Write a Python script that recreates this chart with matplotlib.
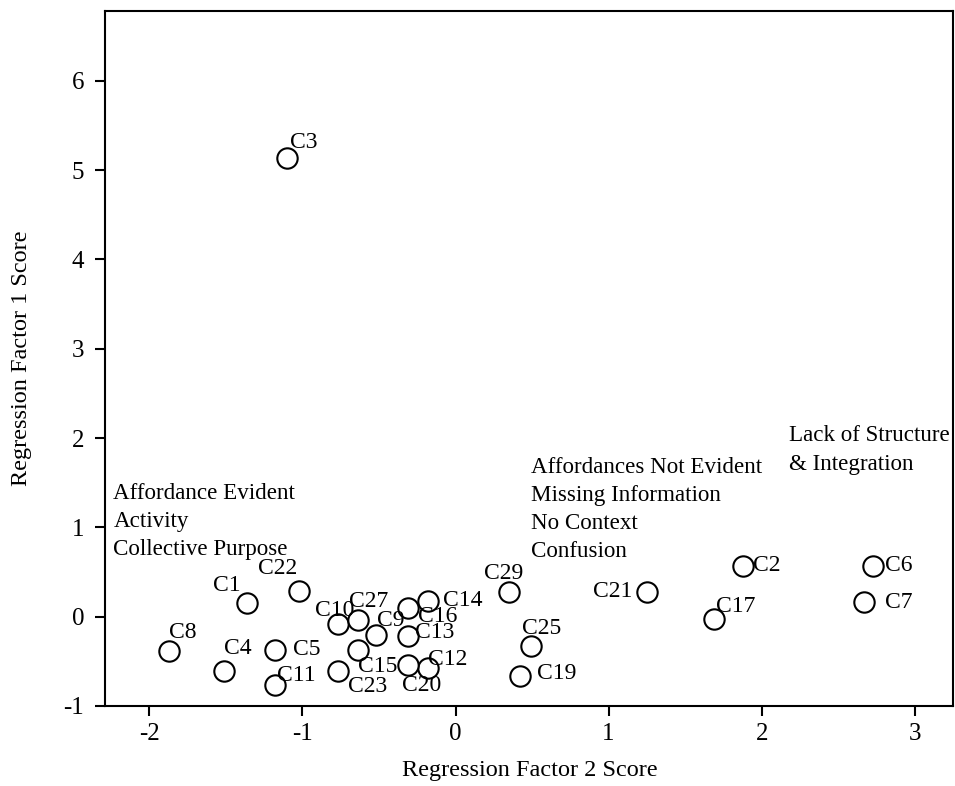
import numpy as np
import matplotlib
matplotlib.use("Agg")
import matplotlib.pyplot as plt

plt.rcParams['font.family'] = ['Liberation Serif', 'DejaVu Serif']
plt.rcParams['axes.unicode_minus'] = False

# cases, factor scores
cases = ['C1', 'C2', 'C3', 'C4', 'C5', 'C6', 'C7', 'C8', 'C9', 'C10',
         'C11', 'C12', 'C13', 'C14', 'C15', 'C16', 'C17', 'C19', 'C20', 'C21',
         'C22', 'C23', 'C25', 'C27', 'C29']
factor2 = [-1.36, 1.88, -1.10, -1.51, -1.18, 2.73, 2.67, -1.87, -0.52, -0.77,
           -1.18, -0.18, -0.31, -0.18, -0.64, -0.31, 1.69, 0.42, -0.31, 1.25,
           -1.02, -0.77, 0.49, -0.64, 0.35]
factor1 = [0.15, 0.57, 5.14, -0.61, -0.37, 0.57, 0.16, -0.38, -0.20, -0.08,
           -0.77, -0.57, -0.22, 0.18, -0.37, 0.10, -0.03, -0.66, -0.54, 0.28,
           0.29, -0.61, -0.33, -0.04, 0.28]

group_texts = ['Affordance Evident\nActivity\nCollective Purpose',
               'Affordances Not Evident\nMissing Information\nNo Context\nConfusion',
               'Lack of Structure\n& Integration']
group_x = [-2.235, 0.49, 2.18]
group_y = [1.40, 1.69, 2.04]

# label placement (pixels, ha)
label_pos = {
    'C1': (-7, 18, 'right'), 'C22': (-2, 22, 'right'), 'C8': (0, 18, 'left'),
    'C4': (0, 23, 'left'), 'C5': (18, 0, 'left'), 'C11': (2, 10, 'left'),
    'C10': (-23, 13, 'left'), 'C27': (-9, 19, 'left'), 'C9': (1, 14, 'left'),
    'C15': (0, -17, 'left'), 'C23': (10, -15, 'left'), 'C16': (10, -9, 'left'),
    'C14': (15, 0, 'left'), 'C13': (7, 4, 'left'), 'C12': (0, 8, 'left'),
    'C20': (-6, -21, 'left'), 'C29': (-25, 18, 'left'), 'C25': (-9, 18, 'left'),
    'C19': (17, 2, 'left'), 'C2': (10, 0, 'left'), 'C6': (12, 0, 'left'),
    'C7': (21, 0, 'left'), 'C17': (2, 13, 'left'), 'C21': (-14, 0, 'right'),
    'C3': (3, 15, 'left'),
}

fig = plt.figure(figsize=(9.55, 7.86), dpi=100)
ax = fig.add_axes([105 / 955, 80 / 786, (953 - 105) / 955, (706 - 11) / 786])

ax.scatter(factor2, factor1, s=215, facecolors='white', edgecolors='black',
           linewidths=1.5, zorder=3)

px = 0.72
for name, x, y in zip(cases, factor2, factor1):
    dx, dy, ha = label_pos[name]
    ax.annotate(name, (x, y), xytext=(dx * px, dy * px), textcoords='offset points',
                ha=ha, va='center', fontsize=17, zorder=4)

for t, x, y in zip(group_texts, group_x, group_y):
    ax.annotate(t, (x, y), xytext=(0, 9 * px), textcoords='offset points',
                ha='left', va='top', fontsize=16.6, linespacing=1.45)

ax.set_xlim(-2.29, 3.25)
ax.set_ylim(-1.0, 6.78)
ax.set_xticks([-2, -1, 0, 1, 2, 3])
ax.set_yticks([-1, 0, 1, 2, 3, 4, 5, 6])
ax.tick_params(direction='out', length=7, width=1.5, labelsize=18)
ax.tick_params(axis='y', pad=8)
ax.tick_params(axis='x', pad=5)
for sp in ax.spines.values():
    sp.set_linewidth(1.5)

fig.text(0.555, 0.02, 'Regression Factor 2 Score', ha='center', va='center', fontsize=17.5)
fig.text(0.022, 1 - 358.5 / 786, 'Regression Factor 1 Score', ha='center',
         va='center', rotation=90, fontsize=17.5)

fig.savefig('out.png', dpi=100)
